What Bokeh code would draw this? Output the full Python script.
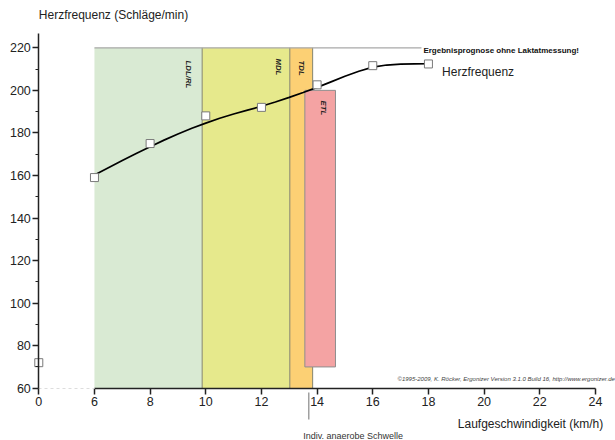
import math
from bokeh.plotting import figure
from bokeh.models import Range1d, LinearAxis, FixedTicker
from bokeh.core.properties import value
from bokeh.embed import file_html
from bokeh.resources import INLINE

# ---------------- data ----------------
speed = [0, 6, 8, 10, 12, 14, 16, 18]                 # km/h
heart_rate = [72, 159, 175, 188, 192, 202.6, 211.6, 212.4]  # bpm

fit_speed = [6, 6.5, 7, 7.5, 8, 8.5, 9, 9.5, 10, 10.5, 11, 11.5, 12,
             12.5, 13, 13.5, 14, 14.5, 15, 15.5, 16, 16.5, 17, 17.5, 18]
fit_hr = [160.2, 163.6, 167.0, 170.3, 173.5, 176.6, 179.5, 182.2, 184.6,
          186.9, 188.9, 190.7, 192.5, 194.5, 196.7, 199.0, 201.4, 204.0,
          206.6, 209.0, 210.9, 211.9, 212.3, 212.4, 212.5]

zone_names = ["LDL/RL", "MDL", "TDL"]
zone_left = [6, 9.87, 13.02]
zone_right = [9.87, 13.02, 13.84]
zone_colors = ["#d9ead3", "#e6e98c", "#fcd074"]
zone_label_x = [9.39, 12.63, 13.43]
zone_label_top = [214.0, 215.0, 214.0]
zone_top = 220
zone_bottom = 60

etl_left, etl_right = 13.56, 14.66
etl_bottom, etl_top = 70, 200
etl_label_x, etl_label_top = 14.24, 195.2

threshold_speed = 13.70
prognose_end = 17.75

x_ticks = [6, 8, 10, 12, 14, 16, 18, 20, 22, 24]
y_ticks = [60, 80, 100, 120, 140, 160, 180, 200, 220]
y_minor = [70, 90, 110, 130, 150, 170, 190, 210]

FONT = value("Liberation Sans")


def xp(v):
    # broken axis: 0..6 km/h compressed into plot units 4..6
    return v if v >= 6 else 4 + v / 3.0


# ---------------- figure ----------------
p = figure(width=615, height=440, output_backend="svg", toolbar_location=None,
           x_axis_type=None, y_axis_type=None, min_border=0,
           x_range=Range1d(2.624, 24.722), y_range=Range1d(35.42, 242.23))
p.outline_line_color = None
p.background_fill_color = "white"
p.border_fill_color = "white"

# zones
p.quad(left=zone_left, right=zone_right, bottom=zone_bottom, top=zone_top,
       fill_color=zone_colors, line_color=None)
p.segment(x0=zone_right, x1=zone_right, y0=zone_bottom, y1=zone_top,
          line_color="#84846f", line_width=1)
p.segment(x0=[zone_left[0]], x1=[prognose_end], y0=[zone_top], y1=[zone_top],
          line_color="#a8a8a8", line_width=1.2)
p.quad(left=[etl_left], right=[etl_right], bottom=[etl_bottom], top=[etl_top],
       fill_color="#f4a3a3", line_color="#8e8e8e", line_width=1)

# threshold marker below the axis
p.segment(x0=[threshold_speed], x1=[threshold_speed], y0=[58.0], y1=[45.3],
          line_color="#a0a0a0", line_width=1.5)

# curve and points
p.line([xp(v) for v in fit_speed], fit_hr, line_color="black", line_width=1.7)
p.scatter([xp(v) for v in speed], heart_rate, marker="square", size=8,
          fill_color="white", line_color="#7a7a7a", line_width=1)

# zone labels (rotated)
p.text(x=zone_label_x + [etl_label_x], y=zone_label_top + [etl_label_top],
       text=zone_names + ["ETL"], angle=-math.pi / 2,
       text_align="left", text_baseline="middle", text_font=FONT,
       text_font_size="7.8px", text_font_style="bold italic", text_color="#222222")

# texts
p.text(x=[17.82], y=[218.6], text=["Ergebnisprognose ohne Laktatmessung!"],
       text_align="left", text_baseline="middle", text_font=FONT,
       text_font_size="8px", text_font_style="bold", text_color="#111111")
p.text(x=[18.49], y=[208.5], text=["Herzfrequenz"],
       text_align="left", text_baseline="middle", text_font=FONT,
       text_font_size="12px", text_color="#222222")
p.text(x=[4.0], y=[235.6], text=["Herzfrequenz (Schläge/min)"],
       text_align="left", text_baseline="middle", text_font=FONT,
       text_font_size="12px", text_color="#222222")
p.text(x=[24.28], y=[43.3], text=["Laufgeschwindigkeit (km/h)"],
       text_align="right", text_baseline="middle", text_font=FONT,
       text_font_size="12px", text_color="#222222")
p.text(x=[13.5], y=[37.4], text=["Indiv. anaerobe Schwelle"],
       text_align="left", text_baseline="middle", text_font=FONT,
       text_font_size="9px", text_color="#333333")
p.text(x=[24.70], y=[64.1],
       text=["©1995-2009, K. Röcker, Ergonizer Version 3.1.0 Build 16, http://www.ergonizer.de"],
       text_align="right", text_baseline="middle", text_font=FONT,
       text_font_size="6px", text_font_style="italic", text_color="#444444")

# axes
def style_axis(ax):
    ax.major_label_text_font = "Liberation Sans"
    ax.major_label_text_font_size = "12.5px"
    ax.major_label_text_color = "#222222"
    ax.axis_line_color = "#222222"
    ax.axis_line_width = 1.5
    ax.major_tick_line_color = "#222222"
    ax.major_tick_line_width = 1.5
    ax.minor_tick_line_color = "#222222"
    ax.major_tick_in = 0
    ax.major_tick_out = 6
    ax.minor_tick_in = 0
    ax.minor_tick_out = 3

yax = LinearAxis(fixed_location=4, ticker=FixedTicker(ticks=y_ticks, minor_ticks=y_minor),
                 bounds=(60, 226.6))
style_axis(yax)
yax.major_label_standoff = 2
p.add_layout(yax, "left")

xax = LinearAxis(fixed_location=60, ticker=FixedTicker(ticks=x_ticks), bounds=(6, 24))
style_axis(xax)
xax.major_label_standoff = 3
p.add_layout(xax, "below")

xax0 = LinearAxis(fixed_location=60, ticker=FixedTicker(ticks=[4]), bounds=(4, 6),
                  major_label_overrides={4: "0"})
style_axis(xax0)
xax0.major_label_standoff = 3
xax0.axis_line_color = "#dddddd"
xax0.axis_line_width = 1
xax0.axis_line_dash = "3 3"
p.add_layout(xax0, "below")

open("out.html", "w").write(file_html(p, INLINE))
